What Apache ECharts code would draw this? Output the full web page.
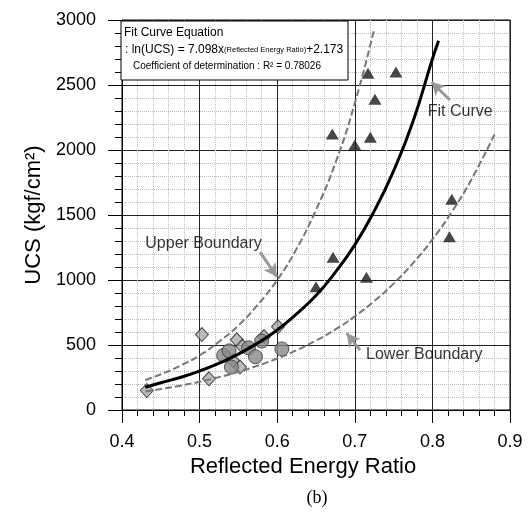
<!DOCTYPE html>
<html>
<head>
<meta charset="UTF-8">
<title>UCS - Reflected Energy Ratio</title>
<script src="https://cdn.jsdelivr.net/npm/echarts@6/dist/echarts.min.js"></script>
<style>html,body{margin:0;padding:0;background:#fff;}</style>
</head>
<body>
<div id="main" style="width:529px;height:522px;"></div>
<script type="text/javascript">
// values: [ratio, UCS]
var triangles = [[0.717,2590],[0.753,2600],[0.726,2390],[0.671,2123],[0.720,2098],[0.700,2038],
                 [0.825,1621],[0.822,1333],[0.672,1175],[0.650,948],[0.715,1021]];
var diamonds = [[0.432,150],[0.503,580],[0.512,240],[0.548,540],[0.543,380],[0.552,330],
                [0.583,565],[0.601,640],[0.555,490]];
var circles = [[0.531,420],[0.538,455],[0.541,330],[0.563,478],[0.572,410],[0.580,530],[0.606,470]];

var fitCurve = [[0.43,175],[0.45,210],[0.475,250],[0.50,300],[0.525,360],[0.55,430],[0.575,515],
                [0.60,615],[0.625,740],[0.65,880],[0.675,1060],[0.70,1270],[0.725,1530],
                [0.75,1840],[0.775,2220],[0.80,2700],[0.808,2840]];
var upperBound = [[0.43,230],[0.45,275],[0.475,340],[0.50,420],[0.525,525],[0.55,650],[0.575,810],
                  [0.60,1000],[0.625,1240],[0.65,1540],[0.675,1900],[0.70,2360],[0.725,2930]];
var lowerBound = [[0.43,142],[0.45,161],[0.475,187],[0.50,217],[0.525,253],[0.55,293],[0.575,341],
                  [0.60,396],[0.625,460],[0.65,534],[0.675,620],[0.70,720],[0.725,837],[0.75,972],
                  [0.775,1130],[0.80,1312],[0.825,1524],[0.85,1770],[0.88,2120]];

// annotation text (left edge, middle) and arrows (from, to)
var notes = [['Fit Curve',0.794,2292],['Upper Boundary',0.430,1277],['Lower Boundary',0.7145,423]];
var arrows = [[[0.8225,2385],[0.799,2523]],[[0.578,1215],[0.5995,1025]],[[0.7067,461],[0.6896,590]]];

var font = '"Liberation Sans", Arial, sans-serif';

var myChart = echarts.init(document.getElementById('main'));

var option = {
    animation: false,
    backgroundColor: '#fff',
    grid: {left: 122, right: 19, top: 20, bottom: 112, show: true, borderColor: '#000', borderWidth: 1},
    xAxis: {
        type: 'value', min: 0.4, max: 0.9, interval: 0.1,
        name: 'Reflected Energy Ratio', nameLocation: 'middle', nameGap: 45,
        nameTextStyle: {fontSize: 22, fontFamily: font, color: '#000', padding: [0, 26, 0, 0]},
        axisLine: {lineStyle: {color: '#000', width: 1}},
        axisTick: {length: 13, lineStyle: {color: '#000'}},
        minorTick: {show: true, splitNumber: 5, length: 6, lineStyle: {color: '#000'}},
        axisLabel: {fontSize: 18, fontFamily: font, color: '#000', margin: 23,
            formatter: function (v) { return v.toFixed(1); }},
        splitLine: {show: true, lineStyle: {color: '#222', width: 1}},
        minorSplitLine: {show: true, lineStyle: {color: '#bbb', type: 'dotted'}}
    },
    yAxis: {
        type: 'value', min: 0, max: 3000, interval: 500,
        name: 'UCS (kgf/cm²)', nameLocation: 'middle', nameGap: 74,
        nameTextStyle: {fontSize: 22, fontFamily: font, color: '#000'},
        axisLine: {show: true, lineStyle: {color: '#000', width: 1}},
        axisTick: {show: true, length: 14, lineStyle: {color: '#000'}},
        minorTick: {show: true, splitNumber: 5, length: 7, lineStyle: {color: '#000'}},
        axisLabel: {fontSize: 18, fontFamily: font, color: '#000', margin: 26,
            formatter: function (v) { return String(v); }},
        splitLine: {show: true, lineStyle: {color: '#222', width: 1}},
        minorSplitLine: {show: true, lineStyle: {color: '#bbb', type: 'dotted'}}
    },
    graphic: [
        {type: 'rect', z: 100, shape: {x: 121, y: 21, width: 227, height: 59},
            style: {fill: '#fff', stroke: '#000', lineWidth: 1}},
        {type: 'text', z: 101, x: 124, y: 33,
            style: {text: 'Fit Curve Equation', font: '12px ' + font, fill: '#000', verticalAlign: 'middle'}},
        {type: 'text', z: 101, x: 125, y: 50,
            style: {text: '{a|: ln(UCS) = 7.098x}{b|(Reflected Energy Ratio)}{a|+2.173}', verticalAlign: 'middle',
                rich: {a: {fontSize: 12, fontFamily: font, color: '#000'},
                       b: {fontSize: 7.5, fontFamily: font, color: '#000'}}}},
        {type: 'text', z: 101, x: 133, y: 66,
            style: {text: 'Coefficient of determination : R² = 0.78026', font: '10px ' + font, fill: '#000', verticalAlign: 'middle'}},
        {type: 'text', z: 101, x: 317, y: 498,
            style: {text: '(b)', font: '18px "Liberation Serif", "Times New Roman", serif', fill: '#000',
                align: 'center', verticalAlign: 'middle'}}
    ],
    series: [
        {
            name: 'Upper Boundary', type: 'line', data: upperBound, smooth: true,
            showSymbol: false, silent: true,
            lineStyle: {color: '#777', width: 2, type: [7, 3]}
        },
        {
            name: 'Lower Boundary', type: 'line', data: lowerBound, smooth: true,
            showSymbol: false, silent: true,
            lineStyle: {color: '#777', width: 2, type: [7, 3]}
        },
        {
            name: 'Fit Curve', type: 'line', data: fitCurve, smooth: true,
            showSymbol: false, silent: true,
            lineStyle: {color: '#000', width: 3},
            markLine: {
                silent: true, symbol: ['none', 'arrow'], symbolSize: [11, 13],
                label: {show: false},
                lineStyle: {color: '#999', width: 3, type: 'solid'},
                data: arrows.map(function (a) { return [{coord: a[0]}, {coord: a[1]}]; })
            }
        },
        {
            name: 'diamond', type: 'scatter', data: diamonds, symbol: 'diamond', symbolSize: [13, 14],
            itemStyle: {color: '#aaa', borderColor: '#222', borderWidth: 1}
        },
        {
            name: 'circle', type: 'scatter', data: circles, symbol: 'circle', symbolSize: 14,
            itemStyle: {color: '#888', borderColor: '#333', borderWidth: 1}
        },
        {
            name: 'triangle', type: 'scatter', data: triangles, symbol: 'triangle', symbolSize: [13, 11],
            itemStyle: {color: '#1a1a1a'}
        },
        {
            name: 'notes', type: 'scatter', symbolSize: 0, silent: true,
            data: notes.map(function (n) { return {name: n[0], value: [n[1], n[2]]}; }),
            label: {show: true, position: 'right', distance: 0, formatter: '{b}',
                fontSize: 16, fontFamily: font, color: '#000'}
        }
    ]
};

myChart.setOption(option);
</script>
</body>
</html>
